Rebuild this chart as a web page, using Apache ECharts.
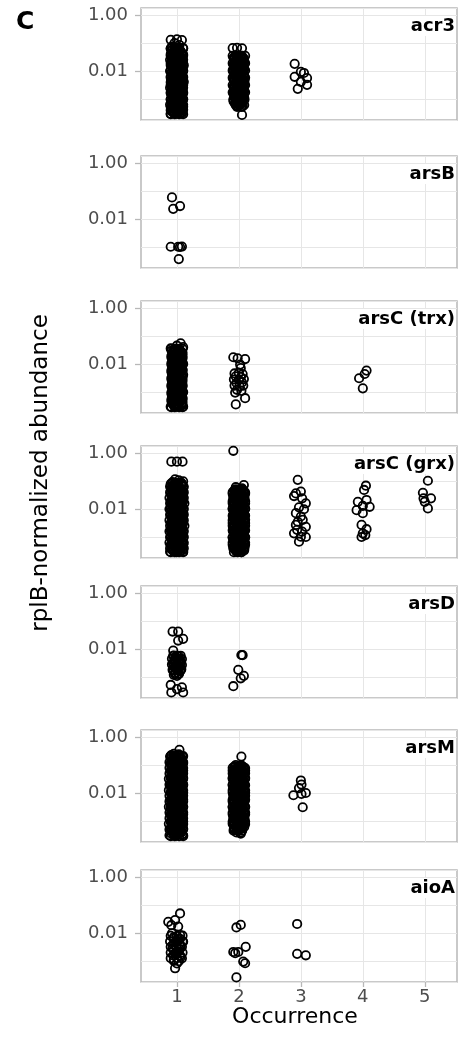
<!DOCTYPE html>
<html>
<head>
<meta charset="utf-8">
<script src="https://cdn.jsdelivr.net/npm/echarts@6/dist/echarts.min.js"></script>
<style>
  html, body { margin: 0; padding: 0; background: #fff; }
  #chart { width: 465px; height: 1038px; }
</style>
</head>
<body>
<div id="chart"></div>
<script>
var genes = ['acr3', 'arsB', 'arsC (trx)', 'arsC (grx)', 'arsD', 'arsM', 'aioA'];
var occurrence = [1, 2, 3, 4, 5];
var yTickValues = [1, 0.01];
var yTickLabels = ['1.00', '0.01'];

// [occurrence (jittered), rplB-normalized abundance]
var acr3Pts = [
  [0.9,0.13],[1.0,0.135],[1.08,0.128],[0.96,0.1],[1.04,0.085],[0.92,0.075],
  [0.9,0.064],[1.0,0.062],[1.1,0.066],[0.95,0.05],[1.05,0.051],
  [0.9,0.04],[1.01,0.041],[1.1,0.039],[0.94,0.032],[1.06,0.031],
  [0.89,0.025],[0.99,0.026],[1.1,0.025],[0.95,0.02],[1.05,0.0195],
  [0.9,0.016],[1.0,0.0158],[1.11,0.016],[0.94,0.0126],[1.06,0.0128],
  [0.89,0.01],[1.0,0.0102],[1.1,0.0099],[0.95,0.0079],[1.05,0.008],
  [0.9,0.0063],[1.01,0.0064],[1.1,0.0062],[0.94,0.005],[1.06,0.0051],
  [0.9,0.004],[1.0,0.0039],[1.11,0.0041],[0.95,0.0032],[1.05,0.0031],
  [0.89,0.0025],[1.0,0.0026],[1.1,0.0025],[0.95,0.002],[1.06,0.00198],
  [0.9,0.0016],[1.0,0.00158],[1.1,0.0016],[0.94,0.00126],[1.05,0.00128],
  [0.9,0.001],[1.01,0.00102],[1.1,0.00099],[0.95,0.00079],[1.05,0.0008],
  [0.89,0.00063],[1.0,0.00064],[1.1,0.00062],[0.95,0.0005],[1.06,0.00051],
  [0.9,0.0004],[1.0,0.00039],[1.1,0.00041],[0.95,0.00032],[1.05,0.00031],
  [0.9,0.0003],[1.0,0.0003],[1.08,0.0003],
  [0.92,0.056],[1.03,0.057],[0.97,0.045],[1.08,0.044],[0.92,0.035],[1.03,0.036],
  [0.97,0.028],[1.08,0.028],[0.92,0.022],[1.03,0.0225],[0.97,0.018],[1.08,0.0178],
  [0.92,0.014],[1.03,0.0142],[0.97,0.011],[1.08,0.0112],[0.92,0.0089],[1.03,0.009],
  [0.97,0.0071],[1.08,0.007],[0.92,0.0056],[1.03,0.0057],[0.97,0.0045],[1.08,0.0044],
  [0.92,0.0035],[1.03,0.0036],[0.97,0.0028],[1.08,0.0028],[0.92,0.0022],[1.03,0.00225],
  [0.97,0.0018],[1.08,0.00178],[0.92,0.0014],[1.03,0.00142],[0.97,0.0011],[1.08,0.00112],
  [0.92,0.00089],[1.03,0.0009],[0.97,0.00071],[1.08,0.0007],[0.92,0.00056],[1.03,0.00057],
  [0.97,0.00045],[1.08,0.00044],[0.92,0.00035],[1.03,0.00036],
  [0.9,0.063],[0.965,0.063],[1.035,0.063],[1.1,0.063],
  [0.93,0.0468],[1.0,0.0468],[1.07,0.0468],
  [0.9,0.0347],[0.965,0.0347],[1.035,0.0347],[1.1,0.0347],
  [0.93,0.0257],[1.0,0.0257],[1.07,0.0257],
  [0.9,0.0191],[0.965,0.0191],[1.035,0.0191],[1.1,0.0191],
  [0.93,0.0141],[1.0,0.0141],[1.07,0.0141],
  [0.9,0.0105],[0.965,0.0105],[1.035,0.0105],[1.1,0.0105],
  [0.93,0.00776],[1.0,0.00776],[1.07,0.00776],
  [0.9,0.00575],[0.965,0.00575],[1.035,0.00575],[1.1,0.00575],
  [0.93,0.00427],[1.0,0.00427],[1.07,0.00427],
  [0.9,0.00316],[0.965,0.00316],[1.035,0.00316],[1.1,0.00316],
  [0.93,0.00234],[1.0,0.00234],[1.07,0.00234],
  [0.9,0.00174],[0.965,0.00174],[1.035,0.00174],[1.1,0.00174],
  [0.93,0.00129],[1.0,0.00129],[1.07,0.00129],
  [0.9,0.000955],[0.965,0.000955],[1.035,0.000955],[1.1,0.000955],
  [0.93,0.000708],[1.0,0.000708],[1.07,0.000708],
  [0.9,0.000525],[0.965,0.000525],[1.035,0.000525],[1.1,0.000525],
  [0.93,0.000389],[1.0,0.000389],[1.07,0.000389],
  [0.9,0.000288],[0.965,0.000288],[1.035,0.000288],[1.1,0.000288],
  [1.9,0.066],[1.97,0.067],[2.05,0.065],
  [1.96,0.036],[2.05,0.035],[1.92,0.028],[2.0,0.029],[2.08,0.028],
  [1.96,0.022],[2.04,0.0225],[1.92,0.018],[2.0,0.0175],[2.08,0.018],
  [1.96,0.014],[2.05,0.0142],[1.91,0.0112],[2.0,0.011],[2.08,0.0113],
  [1.96,0.009],[2.04,0.0088],[1.92,0.007],[2.0,0.0071],[2.08,0.007],
  [1.96,0.0056],[2.05,0.0057],[1.92,0.0045],[2.0,0.0044],[2.09,0.0045],
  [1.96,0.0036],[2.04,0.0035],[1.92,0.0028],[2.0,0.0029],[2.08,0.0028],
  [1.96,0.0022],[2.05,0.0023],[1.92,0.0018],[2.0,0.00175],[2.08,0.0018],
  [1.96,0.0014],[2.04,0.0014],[1.93,0.00112],[2.01,0.0011],[2.08,0.00113],
  [1.96,0.0009],[2.05,0.00088],[1.94,0.0007],[2.03,0.00071],
  [1.98,0.00056],[2.06,0.00055],[2.05,0.00027],
  [1.93,0.032],[2.03,0.031],[1.97,0.025],[2.07,0.0255],[1.93,0.02],[2.03,0.0198],
  [1.97,0.016],[2.07,0.0158],[1.93,0.0126],[2.03,0.0125],[1.97,0.01],[2.07,0.0101],
  [1.93,0.0079],[2.03,0.008],[1.97,0.0063],[2.07,0.0062],[1.93,0.005],[2.03,0.0051],
  [1.97,0.004],[2.07,0.0039],[1.93,0.0032],[2.03,0.0031],[1.97,0.0025],[2.07,0.0026],
  [1.93,0.002],[2.03,0.00198],[1.97,0.0016],[2.07,0.00158],[1.93,0.00126],[2.03,0.00125],
  [1.97,0.001],[2.06,0.00101],[1.95,0.00079],[2.04,0.0008],[2.0,0.00063],
  [1.9,0.0347],[1.965,0.0347],[2.035,0.0347],[2.1,0.0347],
  [1.93,0.0257],[2.0,0.0257],[2.07,0.0257],
  [1.9,0.0191],[1.965,0.0191],[2.035,0.0191],[2.1,0.0191],
  [1.93,0.0141],[2.0,0.0141],[2.07,0.0141],
  [1.9,0.0105],[1.965,0.0105],[2.035,0.0105],[2.1,0.0105],
  [1.93,0.00776],[2.0,0.00776],[2.07,0.00776],
  [1.9,0.00575],[1.965,0.00575],[2.035,0.00575],[2.1,0.00575],
  [1.93,0.00427],[2.0,0.00427],[2.07,0.00427],
  [1.9,0.00316],[1.965,0.00316],[2.035,0.00316],[2.1,0.00316],
  [1.93,0.00234],[2.0,0.00234],[2.07,0.00234],
  [1.9,0.00174],[1.965,0.00174],[2.035,0.00174],[2.1,0.00174],
  [1.93,0.00129],[2.0,0.00129],[2.07,0.00129],
  [1.91,0.000955],[1.965,0.000955],[2.035,0.000955],[2.09,0.000955],
  [1.94,0.000708],[2.0,0.000708],[2.06,0.000708],
  [1.97,0.000525],[2.04,0.000525],
  [2.9,0.018],[3.0,0.0093],[2.9,0.0062],[3.05,0.0085],[3.1,0.0056],[3.0,0.0041],[2.95,0.0023],[3.1,0.0032]
];
// densest core of the acr3 columns
var acr3Core = [
  [0.915,0.0543],[0.983,0.0543],[1.052,0.0543],[0.948,0.0403],[1.017,0.0403],[1.085,0.0403],
  [0.915,0.0299],[0.983,0.0299],[1.052,0.0299],[0.948,0.0221],[1.017,0.0221],[1.085,0.0221],
  [0.915,0.0164],[0.983,0.0164],[1.052,0.0164],[0.948,0.0122],[1.017,0.0122],[1.085,0.0122],
  [0.915,0.00902],[0.983,0.00902],[1.052,0.00902],[0.948,0.00668],[1.017,0.00668],[1.085,0.00668],
  [0.915,0.00495],[0.983,0.00495],[1.052,0.00495],[0.948,0.00367],[1.017,0.00367],[1.085,0.00367],
  [0.915,0.00272],[0.983,0.00272],[1.052,0.00272],[0.948,0.00202],[1.017,0.00202],[1.085,0.00202],
  [0.915,0.0015],[0.983,0.0015],[1.052,0.0015],[0.948,0.00111],[1.017,0.00111],[1.085,0.00111],
  [0.915,0.000822],[0.983,0.000822],[1.052,0.000822],[0.948,0.00061],[1.017,0.00061],[1.085,0.00061],
  [0.915,0.000452],[0.983,0.000452],[1.052,0.000452],[0.948,0.000335],[1.017,0.000335],[1.085,0.000335],
  [1.915,0.0299],[1.983,0.0299],[2.052,0.0299],[1.948,0.0221],[2.017,0.0221],[2.085,0.0221],
  [1.915,0.0164],[1.983,0.0164],[2.052,0.0164],[1.948,0.0122],[2.017,0.0122],[2.085,0.0122],
  [1.915,0.00902],[1.983,0.00902],[2.052,0.00902],[1.948,0.00668],[2.017,0.00668],[2.085,0.00668],
  [1.915,0.00495],[1.983,0.00495],[2.052,0.00495],[1.948,0.00367],[2.017,0.00367],[2.085,0.00367],
  [1.915,0.00272],[1.983,0.00272],[2.052,0.00272],[1.948,0.00202],[2.017,0.00202],[2.085,0.00202],
  [1.915,0.0015],[1.983,0.0015],[2.052,0.0015],[1.948,0.00111],[2.017,0.00111],[2.085,0.00111],
  [1.915,0.000822],[1.983,0.000822],[2.052,0.000822],[1.948,0.00061],[2.017,0.00061],[2.085,0.00061]
];

var arsBPts = [
  [0.92,0.059],[0.94,0.023],[1.05,0.029],[0.9,0.00102],[1.02,0.00102],[1.05,0.001],[1.08,0.00104],[1.03,0.00037]
];

var arsCtrxPts = [
  [1.06,0.055],[0.9,0.036],[1.0,0.045],[1.1,0.04],
  [0.96,0.032],[1.05,0.031],
  [0.93,0.025],[1.01,0.026],[1.09,0.025],[0.97,0.02],[1.06,0.0195],
  [0.92,0.016],[1.0,0.0158],[1.09,0.016],[0.96,0.0126],[1.05,0.0128],
  [0.92,0.01],[1.01,0.0102],[1.1,0.0099],[0.97,0.0079],[1.05,0.008],
  [0.92,0.0063],[1.01,0.0064],[1.09,0.0062],[0.96,0.005],[1.06,0.0051],
  [0.93,0.004],[1.0,0.0039],[1.1,0.0041],[0.97,0.0032],[1.05,0.0031],
  [0.92,0.0025],[1.01,0.0026],[1.09,0.0025],[0.96,0.002],[1.06,0.00198],
  [0.92,0.0016],[1.0,0.00158],[1.09,0.0016],[0.97,0.00126],[1.05,0.00128],
  [0.93,0.001],[1.01,0.00102],[1.1,0.00099],[0.96,0.00079],[1.05,0.0008],
  [0.92,0.00063],[1.0,0.00064],[1.09,0.00062],[0.97,0.0005],[1.06,0.00051],
  [0.92,0.0004],[1.01,0.00039],[1.09,0.00041],[0.9,0.0003],[1.0,0.0003],[1.1,0.0003],
  [0.94,0.028],[1.04,0.0285],[0.98,0.022],[1.08,0.0222],[0.94,0.018],[1.04,0.0178],
  [0.98,0.014],[1.08,0.0142],[0.94,0.011],[1.04,0.0112],[0.98,0.0089],[1.08,0.009],
  [0.94,0.0071],[1.04,0.007],[0.98,0.0056],[1.08,0.0057],[0.94,0.0045],[1.04,0.0044],
  [0.98,0.0035],[1.08,0.0036],[0.94,0.0028],[1.04,0.00285],[0.98,0.0022],[1.08,0.00222],
  [0.94,0.0018],[1.04,0.00178],[0.98,0.0014],[1.08,0.00142],[0.94,0.0011],[1.04,0.00112],
  [0.98,0.00089],[1.08,0.0009],[0.94,0.00071],[1.04,0.0007],[0.98,0.00056],[1.08,0.00057],
  [0.94,0.00045],[1.04,0.00044],[0.98,0.00035],[1.08,0.00036],
  [0.91,0.0347],[0.965,0.0347],[1.035,0.0347],[1.09,0.0347],
  [0.93,0.0257],[1.0,0.0257],[1.07,0.0257],
  [0.91,0.0191],[0.965,0.0191],[1.035,0.0191],[1.09,0.0191],
  [0.93,0.0141],[1.0,0.0141],[1.07,0.0141],
  [0.91,0.0105],[0.965,0.0105],[1.035,0.0105],[1.09,0.0105],
  [0.93,0.00776],[1.0,0.00776],[1.07,0.00776],
  [0.91,0.00575],[0.965,0.00575],[1.035,0.00575],[1.09,0.00575],
  [0.93,0.00427],[1.0,0.00427],[1.07,0.00427],
  [0.91,0.00316],[0.965,0.00316],[1.035,0.00316],[1.09,0.00316],
  [0.93,0.00234],[1.0,0.00234],[1.07,0.00234],
  [0.91,0.00174],[0.965,0.00174],[1.035,0.00174],[1.09,0.00174],
  [0.93,0.00129],[1.0,0.00129],[1.07,0.00129],
  [0.91,0.000955],[0.965,0.000955],[1.035,0.000955],[1.09,0.000955],
  [0.93,0.000708],[1.0,0.000708],[1.07,0.000708],
  [0.91,0.000525],[0.965,0.000525],[1.035,0.000525],[1.09,0.000525],
  [0.93,0.000389],[1.0,0.000389],[1.07,0.000389],
  [0.91,0.000288],[0.965,0.000288],[1.035,0.000288],[1.09,0.000288],
  [1.91,0.0174],[2.1,0.015],[1.98,0.016],[2.02,0.0095],[2.03,0.0071],
  [1.93,0.0046],[2.0,0.0048],[2.06,0.0044],[1.95,0.0036],[2.03,0.0034],
  [1.92,0.0028],[2.0,0.0027],[2.08,0.0029],[1.96,0.0021],[2.05,0.0022],
  [1.93,0.0017],[2.01,0.0016],[2.07,0.0017],[1.97,0.0012],[2.04,0.0011],[1.94,0.00095],
  [2.1,0.0006],[1.95,0.00036],
  [4.06,0.0058],[4.03,0.0044],[3.94,0.0031],[4.0,0.00135]
];
var arsCtrxCore = [
  [0.915,0.0299],[0.983,0.0299],[1.052,0.0299],[0.948,0.0221],[1.017,0.0221],[1.085,0.0221],
  [0.915,0.0164],[0.983,0.0164],[1.052,0.0164],[0.948,0.0122],[1.017,0.0122],[1.085,0.0122],
  [0.915,0.00902],[0.983,0.00902],[1.052,0.00902],[0.948,0.00668],[1.017,0.00668],[1.085,0.00668],
  [0.915,0.00495],[0.983,0.00495],[1.052,0.00495],[0.948,0.00367],[1.017,0.00367],[1.085,0.00367],
  [0.915,0.00272],[0.983,0.00272],[1.052,0.00272],[0.948,0.00202],[1.017,0.00202],[1.085,0.00202],
  [0.915,0.0015],[0.983,0.0015],[1.052,0.0015],[0.948,0.00111],[1.017,0.00111],[1.085,0.00111],
  [0.915,0.000822],[0.983,0.000822],[1.052,0.000822],[0.948,0.00061],[1.017,0.00061],[1.085,0.00061],
  [0.915,0.000452],[0.983,0.000452],[1.052,0.000452],[0.948,0.000335],[1.017,0.000335],[1.085,0.000335]
];

var arsCgrxPts = [
  [0.91,0.49],[1.0,0.49],[1.09,0.49],[0.97,0.115],[1.03,0.105],[1.1,0.098],[0.93,0.092],[0.99,0.085],
  [0.9,0.079],[1.08,0.08],
  [0.89,0.063],[1.0,0.065],[1.11,0.062],[0.94,0.05],[1.06,0.049],
  [0.89,0.04],[1.0,0.041],[1.11,0.04],[0.95,0.032],[1.05,0.031],
  [0.88,0.025],[0.99,0.026],[1.11,0.025],[0.94,0.02],[1.06,0.0205],
  [0.89,0.016],[1.0,0.0162],[1.12,0.0159],[0.94,0.0126],[1.05,0.0124],
  [0.88,0.01],[1.0,0.0098],[1.11,0.0101],[0.95,0.0079],[1.06,0.008],
  [0.89,0.0063],[1.0,0.0062],[1.11,0.0064],[0.94,0.005],[1.05,0.0049],
  [0.88,0.004],[0.99,0.0041],[1.11,0.004],[0.94,0.0032],[1.06,0.0031],
  [0.89,0.0025],[1.0,0.0026],[1.12,0.0025],[0.95,0.002],[1.05,0.00205],
  [0.88,0.0016],[1.0,0.00162],[1.11,0.0016],[0.94,0.00126],[1.06,0.00124],
  [0.89,0.001],[1.0,0.00098],[1.11,0.00101],[0.94,0.00079],[1.05,0.0008],
  [0.88,0.00063],[0.99,0.00064],[1.11,0.00062],[0.95,0.0005],[1.06,0.00049],
  [0.89,0.0004],[1.0,0.00041],[1.11,0.0004],[0.94,0.00032],[1.05,0.00031],
  [0.89,0.0003],[1.0,0.00029],[1.1,0.0003],
  [0.97,0.071],[1.08,0.07],
  [0.92,0.056],[1.03,0.057],[0.97,0.045],[1.08,0.044],[0.92,0.035],[1.03,0.036],
  [0.97,0.028],[1.08,0.028],[0.92,0.022],[1.03,0.0225],[0.97,0.018],[1.08,0.0178],
  [0.92,0.014],[1.03,0.0142],[0.97,0.011],[1.08,0.0112],[0.92,0.0089],[1.03,0.009],
  [0.97,0.0071],[1.08,0.007],[0.92,0.0056],[1.03,0.0057],[0.97,0.0045],[1.08,0.0044],
  [0.92,0.0035],[1.03,0.0036],[0.97,0.0028],[1.08,0.0028],[0.92,0.0022],[1.03,0.00225],
  [0.97,0.0018],[1.08,0.00178],[0.92,0.0014],[1.03,0.00142],[0.97,0.0011],[1.08,0.00112],
  [0.92,0.00089],[1.03,0.0009],[0.97,0.00071],[1.08,0.0007],[0.92,0.00056],[1.03,0.00057],
  [0.97,0.00045],[1.08,0.00044],[0.92,0.00035],[1.03,0.00036],
  [0.93,0.0851],[1.0,0.0851],[1.07,0.0851],
  [0.9,0.063],[0.965,0.063],[1.035,0.063],[1.1,0.063],
  [0.93,0.0468],[1.0,0.0468],[1.07,0.0468],
  [0.9,0.0347],[0.965,0.0347],[1.035,0.0347],[1.1,0.0347],
  [0.93,0.0257],[1.0,0.0257],[1.07,0.0257],
  [0.9,0.0191],[0.965,0.0191],[1.035,0.0191],[1.1,0.0191],
  [0.93,0.0141],[1.0,0.0141],[1.07,0.0141],
  [0.9,0.0105],[0.965,0.0105],[1.035,0.0105],[1.1,0.0105],
  [0.93,0.00776],[1.0,0.00776],[1.07,0.00776],
  [0.9,0.00575],[0.965,0.00575],[1.035,0.00575],[1.1,0.00575],
  [0.93,0.00427],[1.0,0.00427],[1.07,0.00427],
  [0.9,0.00316],[0.965,0.00316],[1.035,0.00316],[1.1,0.00316],
  [0.93,0.00234],[1.0,0.00234],[1.07,0.00234],
  [0.9,0.00174],[0.965,0.00174],[1.035,0.00174],[1.1,0.00174],
  [0.93,0.00129],[1.0,0.00129],[1.07,0.00129],
  [0.9,0.000955],[0.965,0.000955],[1.035,0.000955],[1.1,0.000955],
  [0.93,0.000708],[1.0,0.000708],[1.07,0.000708],
  [0.9,0.000525],[0.965,0.000525],[1.035,0.000525],[1.1,0.000525],
  [0.93,0.000389],[1.0,0.000389],[1.07,0.000389],
  [0.9,0.000288],[0.965,0.000288],[1.035,0.000288],[1.1,0.000288],
  [1.91,1.2],[2.08,0.072],[1.95,0.06],[2.05,0.055],
  [1.95,0.05],[2.05,0.051],
  [1.9,0.04],[2.0,0.041],[2.1,0.039],[1.95,0.032],[2.05,0.031],
  [1.91,0.025],[2.0,0.026],[2.09,0.025],[1.95,0.02],[2.04,0.0195],
  [1.9,0.016],[2.0,0.0158],[2.1,0.016],[1.96,0.0126],[2.05,0.0128],
  [1.9,0.01],[2.01,0.0102],[2.1,0.0099],[1.95,0.0079],[2.05,0.008],
  [1.91,0.0063],[2.0,0.0064],[2.09,0.0062],[1.95,0.005],[2.04,0.0051],
  [1.9,0.004],[2.0,0.0039],[2.1,0.0041],[1.96,0.0032],[2.05,0.0031],
  [1.9,0.0025],[2.01,0.0026],[2.1,0.0025],[1.95,0.002],[2.05,0.00198],
  [1.91,0.0016],[2.0,0.00158],[2.09,0.0016],[1.95,0.00126],[2.04,0.00128],
  [1.9,0.001],[2.0,0.00102],[2.1,0.00099],[1.96,0.00079],[2.05,0.0008],
  [1.9,0.00063],[2.01,0.00064],[2.1,0.00062],[1.95,0.0005],[2.05,0.00051],
  [1.91,0.0004],[2.0,0.00039],[2.09,0.00041],[1.96,0.0003],[2.04,0.00029],
  [1.93,0.045],[2.03,0.044],[1.97,0.035],[2.07,0.036],[1.93,0.028],[2.03,0.0285],
  [1.97,0.022],[2.07,0.0222],[1.93,0.018],[2.03,0.0178],[1.97,0.014],[2.07,0.0142],
  [1.93,0.011],[2.03,0.0112],[1.97,0.0089],[2.07,0.009],[1.93,0.0071],[2.03,0.007],
  [1.97,0.0056],[2.07,0.0057],[1.93,0.0045],[2.03,0.0044],[1.97,0.0035],[2.07,0.0036],
  [1.93,0.0028],[2.03,0.00285],[1.97,0.0022],[2.07,0.00222],[1.93,0.0018],[2.03,0.00178],
  [1.97,0.0014],[2.07,0.00142],[1.93,0.0011],[2.03,0.00112],[1.97,0.00089],[2.07,0.0009],
  [1.93,0.00071],[2.03,0.0007],[1.97,0.00056],[2.07,0.00057],[1.93,0.00045],[2.03,0.00044],
  [1.97,0.00035],[2.07,0.00036],
  [1.93,0.0468],[2.0,0.0468],[2.07,0.0468],
  [1.9,0.0347],[1.965,0.0347],[2.035,0.0347],[2.1,0.0347],
  [1.93,0.0257],[2.0,0.0257],[2.07,0.0257],
  [1.9,0.0191],[1.965,0.0191],[2.035,0.0191],[2.1,0.0191],
  [1.93,0.0141],[2.0,0.0141],[2.07,0.0141],
  [1.9,0.0105],[1.965,0.0105],[2.035,0.0105],[2.1,0.0105],
  [1.93,0.00776],[2.0,0.00776],[2.07,0.00776],
  [1.9,0.00575],[1.965,0.00575],[2.035,0.00575],[2.1,0.00575],
  [1.93,0.00427],[2.0,0.00427],[2.07,0.00427],
  [1.9,0.00316],[1.965,0.00316],[2.035,0.00316],[2.1,0.00316],
  [1.93,0.00234],[2.0,0.00234],[2.07,0.00234],
  [1.9,0.00174],[1.965,0.00174],[2.035,0.00174],[2.1,0.00174],
  [1.93,0.00129],[2.0,0.00129],[2.07,0.00129],
  [1.9,0.000955],[1.965,0.000955],[2.035,0.000955],[2.1,0.000955],
  [1.93,0.000708],[2.0,0.000708],[2.07,0.000708],
  [1.9,0.000525],[1.965,0.000525],[2.035,0.000525],[2.1,0.000525],
  [1.93,0.000389],[2.0,0.000389],[2.07,0.000389],
  [1.92,0.000288],[1.98,0.000288],[2.04,0.000288],
  [2.95,0.11],[2.92,0.036],[3.0,0.042],[2.89,0.029],[3.02,0.024],[3.08,0.016],
  [2.97,0.0115],[3.05,0.0098],[2.92,0.0071],[3.0,0.0054],[2.95,0.0035],[3.03,0.0041],
  [2.92,0.0027],[3.08,0.0023],[2.94,0.0018],[3.02,0.00155],[2.89,0.00135],[3.0,0.00102],
  [3.08,0.001],[2.97,0.00068],
  [4.05,0.068],[4.02,0.048],[3.92,0.018],[4.06,0.021],[4.0,0.0129],[4.11,0.012],
  [3.9,0.0091],[4.0,0.0071],[3.98,0.0027],[4.06,0.0019],[4.0,0.00135],[3.98,0.001],[4.04,0.00117],
  [5.05,0.102],[4.97,0.038],[5.1,0.024],[4.98,0.024],[5.0,0.018],[5.05,0.0105]
];
var arsCgrxCore = [
  [0.948,0.0733],[1.017,0.0733],[1.085,0.0733],
  [0.915,0.0543],[0.983,0.0543],[1.052,0.0543],[0.948,0.0403],[1.017,0.0403],[1.085,0.0403],
  [0.915,0.0299],[0.983,0.0299],[1.052,0.0299],[0.948,0.0221],[1.017,0.0221],[1.085,0.0221],
  [0.915,0.0164],[0.983,0.0164],[1.052,0.0164],[0.948,0.0122],[1.017,0.0122],[1.085,0.0122],
  [0.915,0.00902],[0.983,0.00902],[1.052,0.00902],[0.948,0.00668],[1.017,0.00668],[1.085,0.00668],
  [0.915,0.00495],[0.983,0.00495],[1.052,0.00495],[0.948,0.00367],[1.017,0.00367],[1.085,0.00367],
  [0.915,0.00272],[0.983,0.00272],[1.052,0.00272],[0.948,0.00202],[1.017,0.00202],[1.085,0.00202],
  [0.915,0.0015],[0.983,0.0015],[1.052,0.0015],[0.948,0.00111],[1.017,0.00111],[1.085,0.00111],
  [0.915,0.000822],[0.983,0.000822],[1.052,0.000822],[0.948,0.00061],[1.017,0.00061],[1.085,0.00061],
  [0.915,0.000452],[0.983,0.000452],[1.052,0.000452],[0.948,0.000335],[1.017,0.000335],[1.085,0.000335],
  [1.948,0.0403],[2.017,0.0403],[2.085,0.0403],
  [1.915,0.0299],[1.983,0.0299],[2.052,0.0299],[1.948,0.0221],[2.017,0.0221],[2.085,0.0221],
  [1.915,0.0164],[1.983,0.0164],[2.052,0.0164],[1.948,0.0122],[2.017,0.0122],[2.085,0.0122],
  [1.915,0.00902],[1.983,0.00902],[2.052,0.00902],[1.948,0.00668],[2.017,0.00668],[2.085,0.00668],
  [1.915,0.00495],[1.983,0.00495],[2.052,0.00495],[1.948,0.00367],[2.017,0.00367],[2.085,0.00367],
  [1.915,0.00272],[1.983,0.00272],[2.052,0.00272],[1.948,0.00202],[2.017,0.00202],[2.085,0.00202],
  [1.915,0.0015],[1.983,0.0015],[2.052,0.0015],[1.948,0.00111],[2.017,0.00111],[2.085,0.00111],
  [1.915,0.000822],[1.983,0.000822],[2.052,0.000822],[1.948,0.00061],[2.017,0.00061],[2.085,0.00061],
  [1.915,0.000452],[1.983,0.000452],[2.052,0.000452],[1.948,0.000335],[2.017,0.000335],[2.085,0.000335]
];

var arsDPts = [
  [0.93,0.042],[1.02,0.042],[1.1,0.023],[1.02,0.02],[0.94,0.0088],
  [0.95,0.0058],[1.03,0.0055],[0.92,0.0045],[1.0,0.0047],[1.08,0.0044],
  [0.96,0.0036],[1.04,0.0035],[0.92,0.0028],[1.0,0.0029],[1.08,0.0027],
  [0.96,0.0022],[1.04,0.0023],[0.93,0.0018],[1.01,0.0017],[1.07,0.0019],
  [0.97,0.0014],[1.03,0.0013],[1.0,0.0011],
  [0.98,0.0051],[1.05,0.004],[0.94,0.0032],[1.02,0.0025],[0.98,0.002],[1.05,0.0016],[0.95,0.0012],
  [0.94,0.00575],[1.0,0.00575],[1.06,0.00575],[0.97,0.00427],[1.03,0.00427],
  [0.94,0.00316],[1.0,0.00316],[1.06,0.00316],[0.97,0.00234],[1.03,0.00234],
  [0.94,0.00174],[1.0,0.00174],[1.06,0.00174],[0.97,0.00129],[1.03,0.00129],
  [0.9,0.00052],[1.08,0.00043],[0.91,0.00028],[1.1,0.00028],[1.0,0.00037],
  [2.04,0.0061],[2.06,0.006],[1.99,0.0018],[2.08,0.0011],[2.03,0.0009],[1.91,0.00047]
];

var arsMPts = [
  [1.04,0.35],
  [0.95,0.25],[1.03,0.24],
  [0.89,0.2],[0.99,0.205],[1.09,0.198],[0.93,0.158],[1.05,0.16],
  [0.88,0.126],[0.99,0.124],[1.1,0.127],[0.93,0.1],[1.05,0.098],
  [0.88,0.079],[0.99,0.08],[1.1,0.078],[0.94,0.063],[1.05,0.064],
  [0.88,0.05],[0.99,0.049],[1.1,0.051],[0.93,0.04],[1.04,0.041],
  [0.87,0.032],[0.99,0.031],[1.1,0.032],[0.93,0.025],[1.05,0.0255],
  [0.88,0.02],[0.98,0.0198],[1.1,0.0202],[0.93,0.016],[1.04,0.0158],
  [0.87,0.0126],[0.99,0.0128],[1.1,0.0125],[0.94,0.01],[1.05,0.0101],
  [0.88,0.0079],[0.99,0.0078],[1.1,0.008],[0.93,0.0063],[1.04,0.0064],
  [0.88,0.005],[0.98,0.0051],[1.1,0.005],[0.93,0.004],[1.05,0.0039],
  [0.87,0.0032],[0.99,0.0031],[1.1,0.0032],[0.93,0.0025],[1.04,0.0026],
  [0.88,0.002],[0.99,0.00198],[1.1,0.00202],[0.94,0.0016],[1.05,0.00158],
  [0.88,0.00126],[0.98,0.00128],[1.1,0.00125],[0.93,0.001],[1.04,0.00098],
  [0.87,0.00079],[0.99,0.0008],[1.1,0.00078],[0.93,0.00063],[1.05,0.00064],
  [0.88,0.0005],[0.99,0.00049],[1.1,0.00051],[0.93,0.0004],[1.04,0.00041],
  [0.88,0.00031],[0.99,0.0003],[1.1,0.00031],
  [0.91,0.224],[1.02,0.22],[0.96,0.178],[1.07,0.18],[0.91,0.141],[1.02,0.14],
  [0.96,0.112],[1.07,0.113],[0.91,0.089],[1.02,0.09],[0.96,0.071],[1.07,0.07],
  [0.91,0.056],[1.02,0.057],[0.96,0.045],[1.07,0.044],[0.91,0.035],[1.02,0.036],
  [0.96,0.028],[1.07,0.0285],[0.91,0.022],[1.02,0.0222],[0.96,0.018],[1.07,0.0178],
  [0.91,0.014],[1.02,0.0142],[0.96,0.011],[1.07,0.0112],[0.91,0.0089],[1.02,0.009],
  [0.96,0.0071],[1.07,0.007],[0.91,0.0056],[1.02,0.0057],[0.96,0.0045],[1.07,0.0044],
  [0.91,0.0035],[1.02,0.0036],[0.96,0.0028],[1.07,0.00285],[0.91,0.0022],[1.02,0.00222],
  [0.96,0.0018],[1.07,0.00178],[0.91,0.0014],[1.02,0.00142],[0.96,0.0011],[1.07,0.00112],
  [0.91,0.00089],[1.02,0.0009],[0.96,0.00071],[1.07,0.0007],[0.91,0.00056],[1.02,0.00057],
  [0.96,0.00045],[1.07,0.00044],[0.91,0.00035],[1.02,0.00036],
  [0.9,0.209],[0.965,0.209],[1.035,0.209],[1.1,0.209],
  [0.93,0.155],[1.0,0.155],[1.07,0.155],
  [0.9,0.115],[0.965,0.115],[1.035,0.115],[1.1,0.115],
  [0.93,0.0851],[1.0,0.0851],[1.07,0.0851],
  [0.9,0.063],[0.965,0.063],[1.035,0.063],[1.1,0.063],
  [0.93,0.0468],[1.0,0.0468],[1.07,0.0468],
  [0.9,0.0347],[0.965,0.0347],[1.035,0.0347],[1.1,0.0347],
  [0.93,0.0257],[1.0,0.0257],[1.07,0.0257],
  [0.9,0.0191],[0.965,0.0191],[1.035,0.0191],[1.1,0.0191],
  [0.93,0.0141],[1.0,0.0141],[1.07,0.0141],
  [0.9,0.0105],[0.965,0.0105],[1.035,0.0105],[1.1,0.0105],
  [0.93,0.00776],[1.0,0.00776],[1.07,0.00776],
  [0.9,0.00575],[0.965,0.00575],[1.035,0.00575],[1.1,0.00575],
  [0.93,0.00427],[1.0,0.00427],[1.07,0.00427],
  [0.9,0.00316],[0.965,0.00316],[1.035,0.00316],[1.1,0.00316],
  [0.93,0.00234],[1.0,0.00234],[1.07,0.00234],
  [0.9,0.00174],[0.965,0.00174],[1.035,0.00174],[1.1,0.00174],
  [0.93,0.00129],[1.0,0.00129],[1.07,0.00129],
  [0.9,0.000955],[0.965,0.000955],[1.035,0.000955],[1.1,0.000955],
  [0.93,0.000708],[1.0,0.000708],[1.07,0.000708],
  [0.9,0.000525],[0.965,0.000525],[1.035,0.000525],[1.1,0.000525],
  [0.93,0.000389],[1.0,0.000389],[1.07,0.000389],
  [0.9,0.000288],[0.965,0.000288],[1.035,0.000288],[1.1,0.000288],
  [2.04,0.2],[2.08,0.074],
  [1.95,0.1],[2.04,0.098],
  [1.9,0.079],[2.0,0.08],[2.1,0.078],[1.95,0.063],[2.05,0.064],
  [1.9,0.05],[2.0,0.049],[2.1,0.051],[1.95,0.04],[2.04,0.041],
  [1.9,0.032],[2.01,0.031],[2.1,0.032],[1.96,0.025],[2.05,0.0255],
  [1.9,0.02],[2.0,0.0198],[2.09,0.0202],[1.95,0.016],[2.04,0.0158],
  [1.9,0.0126],[2.0,0.0128],[2.1,0.0125],[1.95,0.01],[2.05,0.0101],
  [1.91,0.0079],[2.0,0.0078],[2.1,0.008],[1.95,0.0063],[2.04,0.0064],
  [1.9,0.005],[2.0,0.0051],[2.09,0.005],[1.96,0.004],[2.05,0.0039],
  [1.9,0.0032],[2.01,0.0031],[2.1,0.0032],[1.95,0.0025],[2.04,0.0026],
  [1.9,0.002],[2.0,0.00198],[2.1,0.00202],[1.95,0.0016],[2.05,0.00158],
  [1.91,0.00126],[2.0,0.00128],[2.09,0.00125],[1.95,0.001],[2.04,0.00098],
  [1.9,0.00079],[2.0,0.0008],[2.1,0.00078],[1.96,0.00063],[2.05,0.00064],
  [1.92,0.0005],[2.01,0.00049],[2.03,0.00035],
  [1.93,0.089],[2.03,0.09],[1.97,0.071],[2.07,0.07],[1.93,0.056],[2.03,0.057],
  [1.97,0.045],[2.07,0.044],[1.93,0.035],[2.03,0.036],[1.97,0.028],[2.07,0.0285],
  [1.93,0.022],[2.03,0.0222],[1.97,0.018],[2.07,0.0178],[1.93,0.014],[2.03,0.0142],
  [1.97,0.011],[2.07,0.0112],[1.93,0.0089],[2.03,0.009],[1.97,0.0071],[2.07,0.007],
  [1.93,0.0056],[2.03,0.0057],[1.97,0.0045],[2.07,0.0044],[1.93,0.0035],[2.03,0.0036],
  [1.97,0.0028],[2.07,0.00285],[1.93,0.0022],[2.03,0.00222],[1.97,0.0018],[2.07,0.00178],
  [1.93,0.0014],[2.03,0.00142],[1.97,0.0011],[2.07,0.00112],[1.93,0.00089],[2.03,0.0009],
  [1.97,0.00071],[2.07,0.0007],[1.93,0.00056],[2.03,0.00057],
  [1.93,0.0851],[2.0,0.0851],[2.07,0.0851],
  [1.9,0.063],[1.965,0.063],[2.035,0.063],[2.1,0.063],
  [1.93,0.0468],[2.0,0.0468],[2.07,0.0468],
  [1.9,0.0347],[1.965,0.0347],[2.035,0.0347],[2.1,0.0347],
  [1.93,0.0257],[2.0,0.0257],[2.07,0.0257],
  [1.9,0.0191],[1.965,0.0191],[2.035,0.0191],[2.1,0.0191],
  [1.93,0.0141],[2.0,0.0141],[2.07,0.0141],
  [1.9,0.0105],[1.965,0.0105],[2.035,0.0105],[2.1,0.0105],
  [1.93,0.00776],[2.0,0.00776],[2.07,0.00776],
  [1.9,0.00575],[1.965,0.00575],[2.035,0.00575],[2.1,0.00575],
  [1.93,0.00427],[2.0,0.00427],[2.07,0.00427],
  [1.9,0.00316],[1.965,0.00316],[2.035,0.00316],[2.1,0.00316],
  [1.93,0.00234],[2.0,0.00234],[2.07,0.00234],
  [1.9,0.00174],[1.965,0.00174],[2.035,0.00174],[2.1,0.00174],
  [1.93,0.00129],[2.0,0.00129],[2.07,0.00129],
  [1.9,0.000955],[1.965,0.000955],[2.035,0.000955],[2.1,0.000955],
  [1.93,0.000708],[2.0,0.000708],[2.07,0.000708],
  [1.92,0.000525],[1.98,0.000525],[2.04,0.000525],
  [1.96,0.000389],[2.03,0.000389],
  [3.0,0.028],[3.01,0.02],[2.97,0.015],[3.08,0.01],[2.88,0.0083],[3.01,0.0092],[3.03,0.0031]
];
var arsMCore = [
  [0.915,0.18],[0.983,0.18],[1.052,0.18],[0.948,0.133],[1.017,0.133],[1.085,0.133],
  [0.915,0.0989],[0.983,0.0989],[1.052,0.0989],[0.948,0.0733],[1.017,0.0733],[1.085,0.0733],
  [0.915,0.0543],[0.983,0.0543],[1.052,0.0543],[0.948,0.0403],[1.017,0.0403],[1.085,0.0403],
  [0.915,0.0299],[0.983,0.0299],[1.052,0.0299],[0.948,0.0221],[1.017,0.0221],[1.085,0.0221],
  [0.915,0.0164],[0.983,0.0164],[1.052,0.0164],[0.948,0.0122],[1.017,0.0122],[1.085,0.0122],
  [0.915,0.00902],[0.983,0.00902],[1.052,0.00902],[0.948,0.00668],[1.017,0.00668],[1.085,0.00668],
  [0.915,0.00495],[0.983,0.00495],[1.052,0.00495],[0.948,0.00367],[1.017,0.00367],[1.085,0.00367],
  [0.915,0.00272],[0.983,0.00272],[1.052,0.00272],[0.948,0.00202],[1.017,0.00202],[1.085,0.00202],
  [0.915,0.0015],[0.983,0.0015],[1.052,0.0015],[0.948,0.00111],[1.017,0.00111],[1.085,0.00111],
  [0.915,0.000822],[0.983,0.000822],[1.052,0.000822],[0.948,0.00061],[1.017,0.00061],[1.085,0.00061],
  [0.915,0.000452],[0.983,0.000452],[1.052,0.000452],[0.948,0.000335],[1.017,0.000335],[1.085,0.000335],
  [1.948,0.0733],[2.017,0.0733],[2.085,0.0733],
  [1.915,0.0543],[1.983,0.0543],[2.052,0.0543],[1.948,0.0403],[2.017,0.0403],[2.085,0.0403],
  [1.915,0.0299],[1.983,0.0299],[2.052,0.0299],[1.948,0.0221],[2.017,0.0221],[2.085,0.0221],
  [1.915,0.0164],[1.983,0.0164],[2.052,0.0164],[1.948,0.0122],[2.017,0.0122],[2.085,0.0122],
  [1.915,0.00902],[1.983,0.00902],[2.052,0.00902],[1.948,0.00668],[2.017,0.00668],[2.085,0.00668],
  [1.915,0.00495],[1.983,0.00495],[2.052,0.00495],[1.948,0.00367],[2.017,0.00367],[2.085,0.00367],
  [1.915,0.00272],[1.983,0.00272],[2.052,0.00272],[1.948,0.00202],[2.017,0.00202],[2.085,0.00202],
  [1.915,0.0015],[1.983,0.0015],[2.052,0.0015],[1.948,0.00111],[2.017,0.00111],[2.085,0.00111],
  [1.915,0.000822],[1.983,0.000822],[2.052,0.000822],[1.948,0.00061],[2.017,0.00061],[2.085,0.00061],
  [1.915,0.000452],[1.983,0.000452],[2.052,0.000452]
];

var aioAPts = [
  [1.05,0.05],[0.86,0.025],[0.97,0.029],[0.91,0.019],[1.02,0.017],[0.92,0.0098],[1.05,0.0085],[1.1,0.0049],
  [0.9,0.0079],[1.0,0.0078],[1.09,0.008],[0.95,0.0063],[1.05,0.0062],
  [0.89,0.005],[1.0,0.0051],[1.09,0.005],[0.94,0.004],[1.04,0.0041],
  [0.9,0.0032],[0.99,0.0031],[1.08,0.0032],[0.95,0.0025],[1.04,0.0026],
  [0.9,0.002],[1.0,0.00198],[1.09,0.002],[0.94,0.0016],[1.05,0.00158],
  [0.9,0.00126],[1.0,0.00128],[1.08,0.00125],[0.95,0.001],[1.03,0.00098],
  [0.95,0.0071],[1.03,0.0056],[0.97,0.0045],[1.06,0.0035],[0.93,0.0028],
  [1.02,0.0022],[0.97,0.0018],[1.06,0.0014],[0.95,0.0011],
  [1.0,0.00082],[0.97,0.00055],
  [1.96,0.0158],[2.03,0.0195],[2.11,0.0032],[1.91,0.0021],[1.99,0.0021],[1.94,0.0019],
  [2.07,0.00095],[2.1,0.00083],[1.96,0.00026],
  [2.94,0.021],[2.94,0.0018],[3.08,0.0016]
];

var panelData = [
    acr3Pts.concat(acr3Core), arsBPts, arsCtrxPts.concat(arsCtrxCore),
    arsCgrxPts.concat(arsCgrxCore), arsDPts, arsMPts.concat(arsMCore), aioAPts
];

var myChart = echarts.init(document.getElementById('chart'), null, { renderer: 'canvas' });

var font = 'DejaVu Sans';
var panelTops = [8, 156, 301, 446, 586, 730, 870];
var panelHeight = 112;
var yMin = Math.pow(10, -3.75);
var yMax = Math.pow(10, 0.25);
var gridColor = '#e6e6e6';
var borderColor = '#b8b8b8';
var last = genes.length - 1;

function yLabel(v) {
    for (var k = 0; k < yTickValues.length; k++) {
        if (Math.abs(Math.log10(v) - Math.log10(yTickValues[k])) < 1e-6) return yTickLabels[k];
    }
    return '';
}

var grids = [], xAxes = [], yAxes = [], series = [], graphics = [];

genes.forEach(function (name, i) {
    grids.push({
        left: 141,
        right: 8,
        top: panelTops[i],
        height: panelHeight,
        show: true,
        borderColor: borderColor,
        borderWidth: 1.5,
        backgroundColor: 'transparent'
    });
    xAxes.push({
        type: 'value',
        gridIndex: i,
        min: 0.42,
        max: 5.52,
        axisLine: { show: false },
        axisTick: {
            show: i === last,
            customValues: occurrence,
            length: 5,
            lineStyle: { color: borderColor, width: 1.3 }
        },
        axisLabel: {
            show: i === last,
            customValues: occurrence,
            margin: 6,
            fontSize: 18,
            fontFamily: font,
            color: '#4d4d4d'
        },
        splitLine: { show: true, lineStyle: { color: gridColor, width: 1 } }
    });
    // labelled axis
    yAxes.push({
        type: 'log',
        logBase: 10,
        gridIndex: i,
        min: yMin,
        max: yMax,
        axisLine: { show: false },
        axisTick: {
            show: true,
            customValues: yTickValues,
            length: 6,
            lineStyle: { color: borderColor, width: 1.3 }
        },
        axisLabel: {
            formatter: yLabel,
            margin: 13,
            fontSize: 18,
            fontFamily: font,
            color: '#4d4d4d'
        },
        splitLine: { show: false }
    });
    // grid lines at every decade
    yAxes.push({
        type: 'log',
        logBase: 10,
        gridIndex: i,
        position: 'left',
        min: yMin,
        max: yMax,
        axisLine: { show: false },
        axisTick: { show: false },
        axisLabel: { show: false },
        splitLine: { show: true, lineStyle: { color: gridColor, width: 1 } }
    });
    series.push({
        type: 'scatter',
        name: name,
        xAxisIndex: i,
        yAxisIndex: 2 * i,
        data: panelData[i],
        symbol: 'circle',
        symbolSize: 8.4,
        silent: true,
        progressive: 0,
        itemStyle: {
            color: 'rgba(0,0,0,0)',
            borderColor: '#000',
            borderWidth: 1.8,
            opacity: 1
        }
    });
    graphics.push({
        type: 'text',
        x: 456,
        y: panelTops[i] + 18,
        z: 10,
        style: {
            text: name,
            font: 'bold 18px "DejaVu Sans"',
            fill: '#000',
            align: 'right',
            verticalAlign: 'middle',
            backgroundColor: '#fff',
            padding: [1, 1, 1, 2]
        }
    });
});

graphics.push({
    type: 'text', x: 16, y: 22,
    style: { text: 'C', font: 'bold 25px "DejaVu Sans"', fill: '#000', align: 'left', verticalAlign: 'middle' }
});
graphics.push({
    type: 'text', x: 41, y: 473, rotation: Math.PI / 2,
    style: { text: 'rplB-normalized abundance', font: '23px "DejaVu Sans"', fill: '#000', align: 'center', verticalAlign: 'middle' }
});
graphics.push({
    type: 'text', x: 295, y: 1017,
    style: { text: 'Occurrence', font: '22px "DejaVu Sans"', fill: '#000', align: 'center', verticalAlign: 'middle' }
});

var option = {
    animation: false,
    backgroundColor: '#fff',
    grid: grids,
    xAxis: xAxes,
    yAxis: yAxes,
    series: series,
    graphic: graphics
};

myChart.setOption(option);
window.addEventListener('resize', myChart.resize);
</script>
</body>
</html>
